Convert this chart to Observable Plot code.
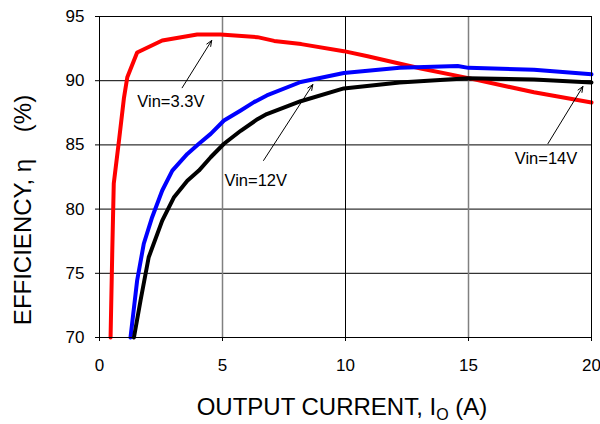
<!DOCTYPE html>
<html><head><meta charset="utf-8">
<script src="https://cdn.jsdelivr.net/npm/d3@7"></script>
<script src="https://cdn.jsdelivr.net/npm/@observablehq/plot@0.6"></script>
<style>body{margin:0;background:#fff}</style>
</head><body><div id="chart"></div>
<script>
// Output current (A) and efficiency (%) per input voltage
const io33 = [0.45, 0.52, 0.58, 0.79, 0.99, 1.13, 1.53, 2.55, 3.97, 4.92, 6.42, 7.1, 8.2, 9.93, 10.9, 13.06, 15.0, 17.66, 20.0];
const eff33 = [70, 76.8, 82.0, 85.3, 88.6, 90.27, 92.2, 93.13, 93.6, 93.6, 93.39, 93.1, 92.85, 92.3, 91.9, 90.95, 90.2, 89.1, 88.3];
const io12 = [1.26, 1.53, 1.80, 2.14, 2.55, 2.96, 3.57, 4.04, 4.52, 5.06, 5.74, 6.28, 6.8, 8.18, 9.93, 12.2, 14.56, 15.0, 17.66, 20.0];
const eff12 = [70, 74.44, 77.3, 79.37, 81.45, 83.0, 84.3, 85.09, 85.86, 86.9, 87.68, 88.33, 88.85, 89.9, 90.6, 91.0, 91.15, 91.0, 90.85, 90.5];
const io14 = [1.40, 1.67, 2.0, 2.55, 3.02, 3.57, 4.04, 4.52, 5.06, 5.74, 6.42, 6.8, 8.18, 9.93, 12.2, 15.0, 17.66, 20.0];
const eff14 = [70, 72.9, 76.25, 79.1, 80.9, 82.2, 83.0, 84.04, 85.09, 86.1, 87.0, 87.4, 88.4, 89.4, 89.86, 90.2, 90.1, 89.86];
const seriesNames = ["Vin=3.3V", "Vin=12V", "Vin=14V"];
const seriesColors = ["#ff0000", "#0000ff", "#000000"];
const xTicks = [0, 5, 10, 15, 20];
const yTicks = [70, 75, 80, 85, 90, 95];
// annotation label positions and arrows (data units)
const labelX = [2.9, 6.35, 18.15];
const labelY = [88.4, 82.2, 83.9];
const arrowX1 = [3.36, 6.67, 18.23];
const arrowY1 = [89.45, 83.79, 85.1];
const arrowX2 = [4.56, 8.67, 19.65];
const arrowY2 = [93.13, 89.7, 89.55];

const toRows = (xs, ys, s) => xs.map((x, i) => ({x, y: ys[i], s}));
const lines = [toRows(io33, eff33, 0), toRows(io12, eff12, 1), toRows(io14, eff14, 2)];
const labels = seriesNames.map((t, i) => ({t, x: labelX[i], y: labelY[i]}));
const arrows = seriesNames.map((t, i) => ({x1: arrowX1[i], y1: arrowY1[i], x2: arrowX2[i], y2: arrowY2[i]}));

const font = "'Liberation Sans', Arial, sans-serif";
const chart = Plot.plot({
  width: 600, height: 424,
  marginLeft: 99, marginRight: 9, marginTop: 16, marginBottom: 87,
  style: {fontFamily: font, fontSize: "17px", color: "black", background: "white"},
  x: {domain: [0, 20]},
  y: {domain: [70, 95]},
  marks: [
    Plot.gridY([75, 80, 85, 90], {stroke: "black", strokeOpacity: 1, strokeWidth: 1}),
    Plot.gridX([10], {stroke: "black", strokeOpacity: 1, strokeWidth: 1}),
    Plot.gridX([5, 15], {stroke: "#808080", strokeOpacity: 1, strokeWidth: 1.5}),
    Plot.axisX({ticks: xTicks, tickSize: 4, tickPadding: 17, label: null, fontSize: 17}),
    Plot.axisY({ticks: yTicks, tickSize: 4, tickPadding: 11, label: null, fontSize: 17}),
    ...lines.map((d, i) => Plot.line(d, {x: "x", y: "y", stroke: seriesColors[i], strokeWidth: 4, curve: "linear", strokeLinejoin: "round"})),
    Plot.frame({stroke: "black", strokeWidth: 1}),
    Plot.arrow(arrows, {x1: "x1", y1: "y1", x2: "x2", y2: "y2", stroke: "black", strokeWidth: 1, headLength: 9, headAngle: 45}),
    Plot.text(labels, {x: "x", y: "y", text: "t", fontSize: 16.5, fill: "black", textAnchor: "middle"})
  ]
});
document.getElementById("chart").appendChild(chart);

const svg = d3.select(chart);
// x axis title with subscript
const xt = svg.append("text").attr("x", 342).attr("y", 415).attr("text-anchor", "middle")
  .style("font-family", font).style("font-size", "24px").attr("fill", "black");
xt.append("tspan").text("OUTPUT CURRENT, I");
xt.append("tspan").text("O").style("font-size", "16px").attr("dy", 5);
xt.append("tspan").text(" (A)").attr("dy", -5);
// y axis title
svg.append("text").attr("transform", "translate(31,210) rotate(-90)").attr("text-anchor", "middle")
  .style("font-family", font).style("font-size", "24px").attr("fill", "black")
  .attr("xml:space", "preserve").style("white-space", "pre")
  .text("EFFICIENCY, η    (%)");
</script></body></html>
